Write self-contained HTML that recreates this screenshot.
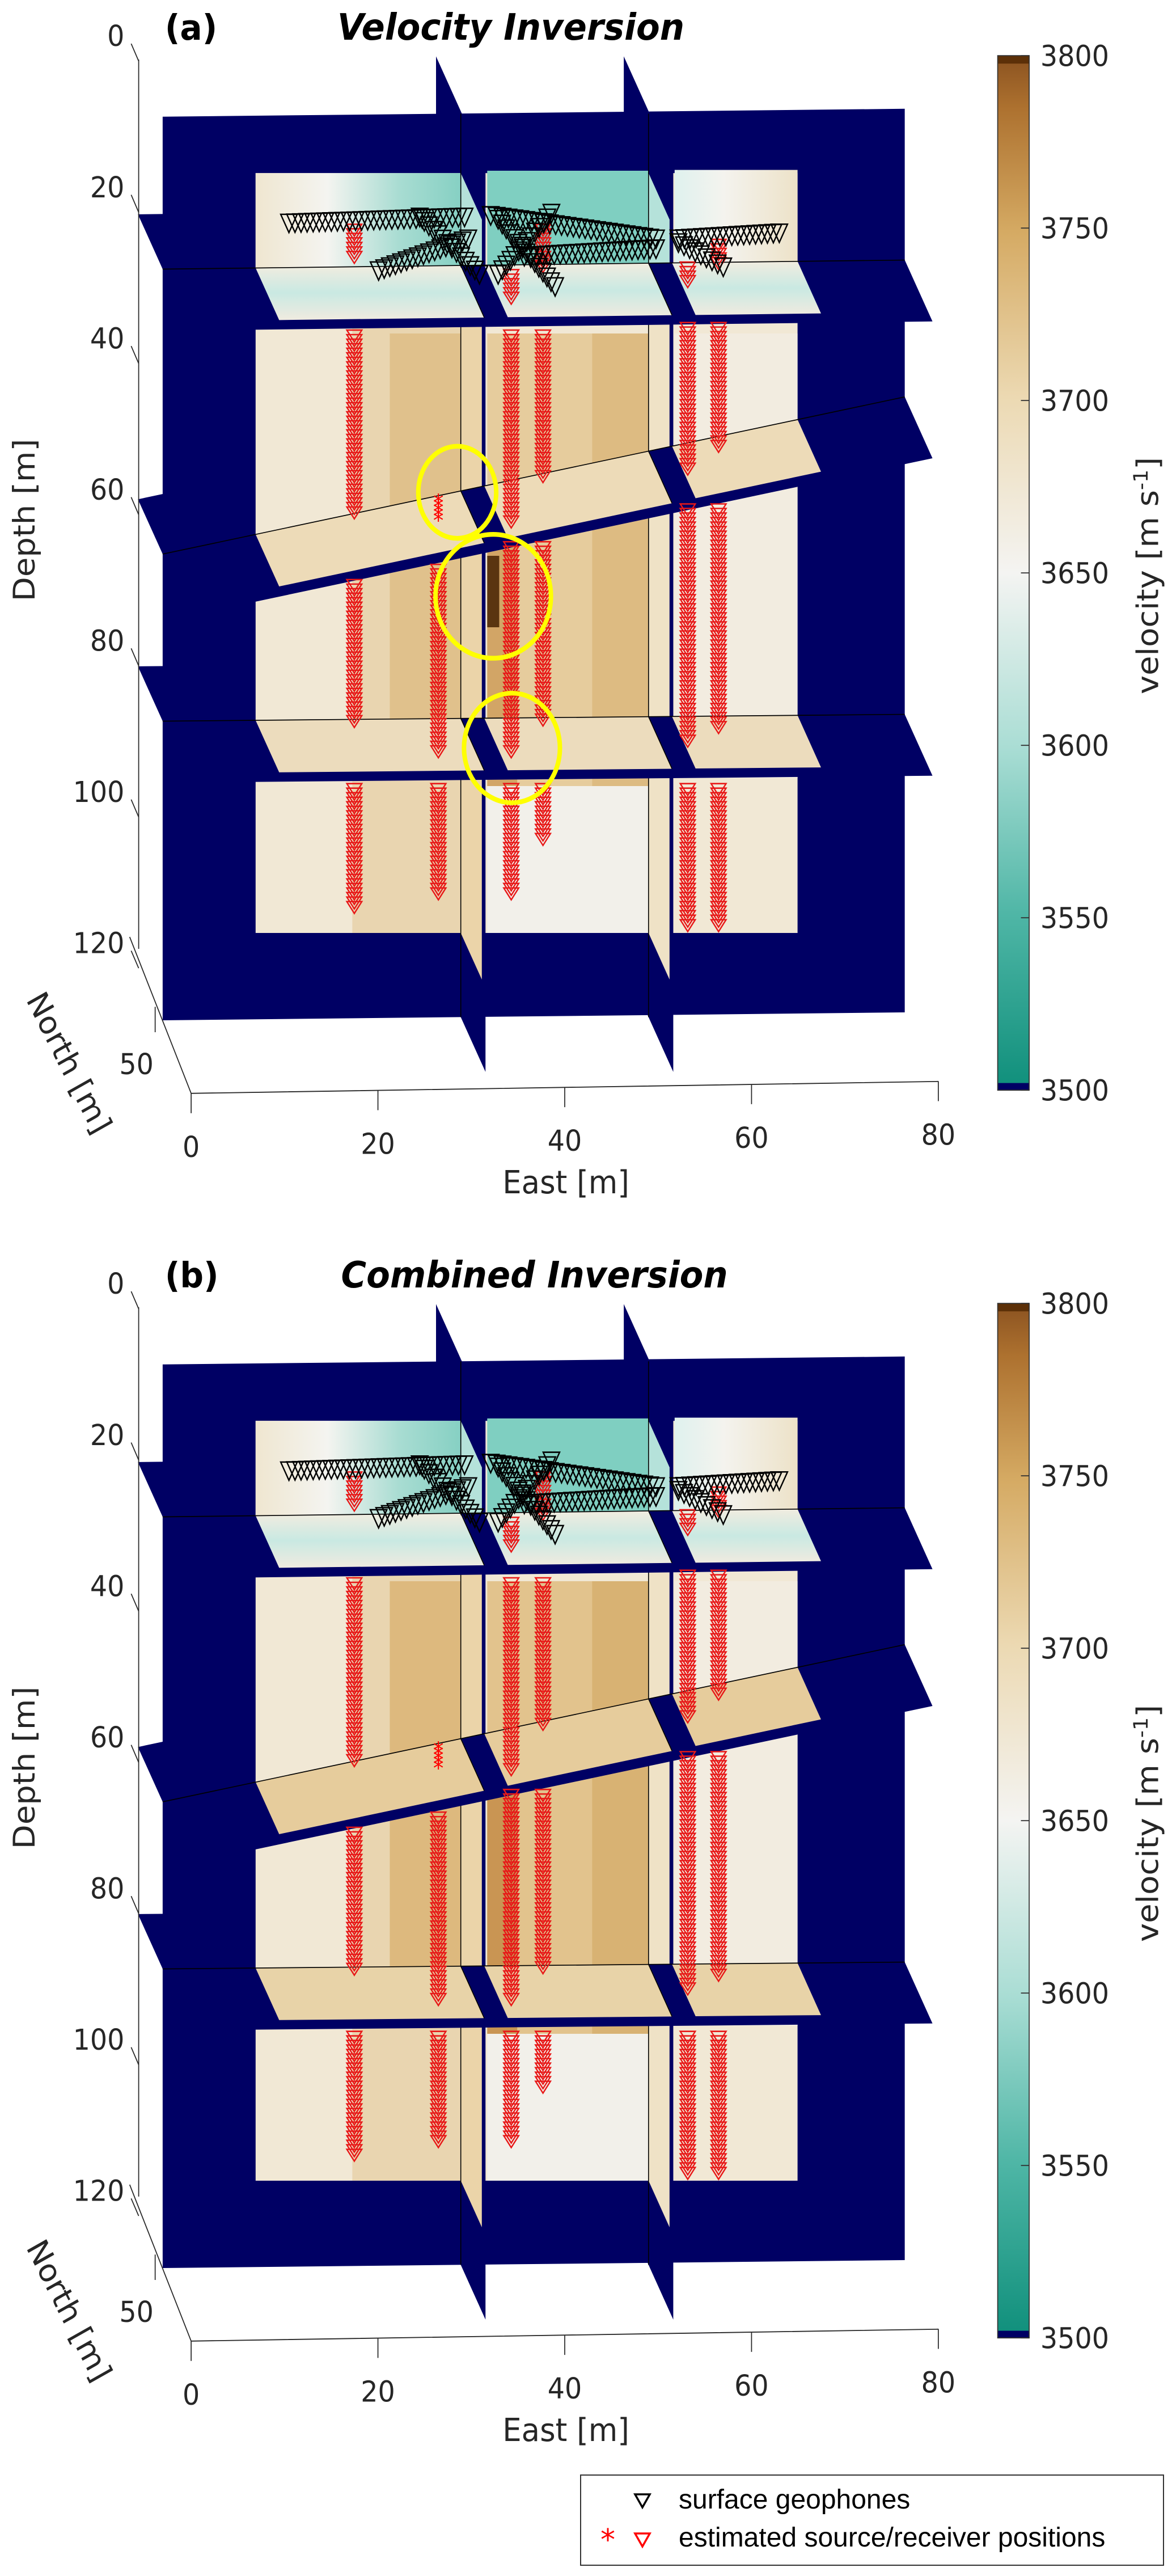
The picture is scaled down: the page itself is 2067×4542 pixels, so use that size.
<!DOCTYPE html>
<html><head><meta charset="utf-8">
<style>
html,body{margin:0;padding:0;background:#fff;}
svg{display:block;}
text{font-family:"DejaVu Sans","Liberation Sans",sans-serif;fill:#262626;}
.lg{font-family:"Liberation Sans",sans-serif;fill:#000;}
</style></head>
<body>
<svg id="fig" width="2067" height="4542" viewBox="0 0 2067 4542" xmlns="http://www.w3.org/2000/svg">
<defs>
<linearGradient id="cbg" x1="0" y1="1" x2="0" y2="0">
<stop offset="0" stop-color="#0f8f7b"/><stop offset="0.17" stop-color="#4fb6a6"/>
<stop offset="0.33" stop-color="#a9ddd4"/><stop offset="0.5" stop-color="#f4f4f2"/>
<stop offset="0.67" stop-color="#ecd9b2"/><stop offset="0.83" stop-color="#d5aa63"/>
<stop offset="0.95" stop-color="#ad712f"/><stop offset="1" stop-color="#8a5220"/>
</linearGradient>
<linearGradient id="topL" x1="0" y1="0" x2="1" y2="0">
<stop offset="0" stop-color="#efe6d0"/><stop offset="0.35" stop-color="#f4f4f0"/>
<stop offset="0.7" stop-color="#a8dcd2"/><stop offset="1" stop-color="#86d0c3"/>
</linearGradient>
<linearGradient id="topR" x1="0" y1="0" x2="1" y2="0">
<stop offset="0" stop-color="#dff2ee"/><stop offset="0.4" stop-color="#f4f3ee"/><stop offset="1" stop-color="#ede2c8"/>
</linearGradient>
<linearGradient id="s1face" x1="0" y1="0" x2="0" y2="1">
<stop offset="0" stop-color="#f1ece0"/><stop offset="0.5" stop-color="#c9e9e2"/><stop offset="1" stop-color="#f0ebe0"/>
</linearGradient>
</defs>
<g id="panelA"></g>
<g id="panelB"></g>
<g id="legend">
<rect x="1024" y="4364" width="1028" height="159" fill="#fff" stroke="#333" stroke-width="2"/>
<path d="M1120,4398 L1146,4398 L1133,4421 Z" fill="none" stroke="#000" stroke-width="3.5"/>
<text class="lg" x="1197" y="4423" font-size="48">surface geophones</text>
<text x="1072" y="4496" font-size="52" fill="#f00" style="fill:#f00" text-anchor="middle" font-family="Liberation Sans">*</text>
<path d="M1120,4467 L1146,4467 L1133,4490 Z" fill="none" stroke="#f00" stroke-width="3.5"/>
<text class="lg" x="1197" y="4490" font-size="48">estimated source/receiver positions</text>
</g>
</svg>
<script>
// ---- data ----
const depthTicks = [0, 20, 40, 60, 80, 100, 120];
const eastTicks = [0, 20, 40, 60, 80];
const cbTicks = [3500, 3550, 3600, 3650, 3700, 3750, 3800];
const sliceDepthLeft = [27.2, 64.9, 87];
const sliceDepthRight = [26, 44.1, 86.1];
const verticalSliceEast = [31.6, 51.7];
const recEast = [20.2, 29.2, 37.0, 40.4, 55.9, 59.2];
const recTop = [[22, 36, 69, 96], [58, 67, 96], [28, 36, 64, 96], [22, 36, 64, 96], [27, 35, 59, 96], [24, 35, 59, 96]];
const recBot = [[26, 60, 87, 112], [61, 91, 110], [31.5, 61, 91, 110], [27, 55, 87, 103], [29, 54, 90, 114], [27, 51, 88, 114]];
const geoE1 = [13.2, 22.8, 27.2, 34.8, 35.6, 38.4, 35.6, 54.9, 54.9];
const geoZ1 = [21, 27.3, 20.2, 20, 27.8, 25.4, 20.5, 23.1, 23.6];
const geoE2 = [32, 32.4, 33.6, 52.5, 41.3, 52.5, 41.7, 65.7, 59.7];
const geoZ2 = [20.2, 23.1, 27.8, 23.1, 19.7, 24.4, 29.4, 22.3, 26.8];
const titles = ["(a)", "(b)"];
const names = ["Velocity Inversion", "Combined Inversion"];

// ---- axis functions (panel units) ----
const NS = "http://www.w3.org/2000/svg";
const NX = 33, NY = 69; // half north vector
function xE(E){ return 221 + E * 12.46; }
function yZ(z){ return 80 + z * 9.52; }
function yTick(d){ return 45 + d * 9.52; }
function xTick(E){ return 255 + E * 12.46; }
function yTickE(E){ return 1377 - E * 0.19; }
function yCb(v){ return 1373 - (v - 3500) * 4.343; }

function mk(parent, tag, attrs, txt){
  const e = document.createElementNS(NS, tag);
  for (const k in attrs) e.setAttribute(k, attrs[k]);
  if (txt !== undefined) e.textContent = txt;
  parent.appendChild(e);
  return e;
}
function pts(a){ return a.map(p => p[0].toFixed(1) + "," + p[1].toFixed(1)).join(" "); }
const NAVY = "#000064";

function drawPanel(root, idx){
  const g = mk(root, "g", {transform: "translate(0," + (idx * 2200) + ") scale(1.322,1.40)"});
  const sl = sliceDepthLeft.map((d, i) => [yZ(d), yZ(sliceDepthRight[i])]);
  function yAt(i, x){ return sl[i][0] + (sl[i][1] - sl[i][0]) * (x - 217) / 990; }
  function hp(i, x, t){ return [x + NX * t, yAt(i, x) + NY * t]; }
  const vx = verticalSliceEast.map(xE);
  sl.forEach((s, i) => {
    const p = mk(g, "polygon", {points: pts([hp(i, 217, -1), hp(i, 1207, -1), hp(i, 1207, 0), hp(i, 217, 0)]), fill: NAVY});
    
    
  });
  vx.forEach((x, i) => {
    const p = mk(g, "polygon", {points: pts([[x - NX, 143 - 3 - NY], [x, 143 - 3], [x, 1281], [x - NX, 1281 - NY]]), fill: NAVY});
    
    
  });
  const xz = mk(g, "polygon", {points: pts([[217, 147], [1207, 137], [1207, 1275], [217, 1285]]), fill: NAVY});
  
  
  const d = mk(g, "g", {});
  
  
  mk(d, "rect", {x: 341, y: 218, width: 723, height: 957, fill: "#f1e8d5"});
  mk(d, "rect", {x: 470, y: 335, width: 145, height: 840, fill: "#e9d5b0"});
  mk(d, "rect", {x: 520, y: 420, width: 95, height: 560, fill: idx ? "#ddb97e" : "#e0c18c"});
  mk(d, "rect", {x: 650, y: 420, width: 215, height: 570, fill: idx ? "#e2c38d" : "#e6cc9d"});
  mk(d, "rect", {x: 790, y: 420, width: 75, height: 570, fill: idx ? "#d8b273" : "#ddbb82"});
  mk(d, "rect", {x: 650, y: 680, width: 40, height: 310, fill: idx ? "#c99553" : "#d2a566"});
  mk(d, "rect", {x: 650, y: 990, width: 215, height: 185, fill: "#f2f0ea"});
  mk(d, "rect", {x: 341, y: 218, width: 274, height: 120, fill: "url(#topL)"});
  mk(d, "rect", {x: 650, y: 215, width: 215, height: 120, fill: "#7fcfc1"});
  mk(d, "rect", {x: 900, y: 214, width: 164, height: 120, fill: "url(#topR)"});
  mk(d, "rect", {x: 900, y: 420, width: 164, height: 560, fill: "#f2ece0"});
  if (idx === 0) mk(d, "rect", {x: 650, y: 700, width: 16, height: 90, fill: "#5a3510"});
  vx.forEach((x, i) => {
    const p = mk(g, "polygon", {points: pts([[x, 140], [x + NX, 140 + NY], [x + NX, 1281 + NY], [x, 1281]]), fill: NAVY});
    
    
    const f = mk(g, "polygon", {points: pts([[x, 218], [x + NX * 0.85, 218 + NY * 0.85], [x + NX * 0.85, 1175 + NY * 0.85], [x, 1175]]), fill: i ? "#efe2c6" : "#ebd4a9"});
    
    
    mk(g, "polygon", {points: pts([[x, 218], [x + NX * 0.85, 218 + NY * 0.85], [x + NX * 0.85, 335 + NY * 0.85], [x, 335]]), fill: "#b5e2da"});
    mk(g, "line", {x1: x, y1: 143, x2: x, y2: 1281, stroke: "#000", "stroke-width": 1.2});
  });
  const faceFill = ["url(#s1face)", idx ? "#e6cc9c" : "#eddbb8", idx ? "#e8d3a8" : "#ecdcbd"];
  sl.forEach((s, i) => {
    const p = mk(g, "polygon", {points: pts([hp(i, 217, 0), hp(i, 1207, 0), hp(i, 1207, 1.12), hp(i, 217, 1.12)]), fill: NAVY});
    
    
    const segs = [[341, vx[0]], [vx[0] + NX * 0.95, vx[1]], [vx[1] + NX * 0.95, 1064]];
    segs.forEach(([a, b], j) => {
      const f = mk(g, "polygon", {points: pts([hp(i, a, 0), hp(i, b, 0), hp(i, b, 0.95), hp(i, a, 0.95)]), fill: faceFill[i]});
      
      
    });
    mk(g, "line", {x1: 217, y1: yAt(i, 217), x2: 1207, y2: yAt(i, 1207), stroke: "#000", "stroke-width": 1.2});
    vx.forEach(x => mk(g, "line", {x1: x, y1: yAt(i, x), x2: x + NX * 0.95, y2: yAt(i, x) + NY * 0.95, stroke: "#000", "stroke-width": 1.2}));
  });
  recEast.forEach((E, c) => {
    const x = xE(E);
    recTop[c].forEach((z0, k) => {
      const z1 = recBot[c][k];
      const col = mk(g, "g", {});
      
      
      for (let z = z0; z <= z1; z += 0.6) {
        const y = yZ(z);
        if (c === 1 && k === 0) {
          const s = mk(col, "text", {x: x, y: y + 10, "font-size": 28, "text-anchor": "middle", style: "fill:#f00", "font-family": "Liberation Sans"}, "*");
          
          
        } else {
          const t = mk(col, "path", {d: "M" + (x - 10) + "," + (y - 7) + " L" + (x + 10) + "," + (y - 7) + " L" + x + "," + (y + 8) + " Z", fill: "none", stroke: "#e81818", "stroke-width": 1.8});
          
          
        }
      }
    });
  });
  geoE1.forEach((e1, k) => {
    const x1 = xE(e1), y1 = yZ(geoZ1[k]), x2 = xE(geoE2[k]), y2 = yZ(geoZ2[k]);
    const L = Math.hypot(x2 - x1, y2 - y1), n = Math.max(2, Math.round(L / 8));
    const gl = mk(g, "g", {});
    
    
    for (let j = 0; j <= n; j++) {
      const x = x1 + (x2 - x1) * j / n, y = y1 + (y2 - y1) * j / n;
      const t = mk(gl, "path", {d: "M" + (x - 11) + "," + (y - 10) + " L" + (x + 11) + "," + (y - 10) + " L" + x + "," + (y + 13) + " Z", fill: "none", stroke: "#000", "stroke-width": 1.8});
      
      
    }
  });
  if (idx === 0) {
    [[610, 620, 52, 58], [658, 751, 77, 78], [683, 942, 64, 69]].forEach((c, k) => {
      const e = mk(g, "ellipse", {cx: c[0], cy: c[1], rx: c[2], ry: c[3], fill: "none", stroke: "#ffff00", "stroke-width": 6});
      
      
    });
  }
  const ax = mk(g, "g", {stroke: "#262626", "stroke-width": 1.3, fill: "none"});
  
  
  mk(ax, "polyline", {points: "185,75 185,1195"});
  mk(ax, "polyline", {points: "173,1180 255,1377 1252,1362"});
  mk(ax, "line", {x1: 207, y1: 1268, x2: 207, y2: 1300});
  depthTicks.forEach(dv => {
    const y = yTick(dv);
    mk(ax, "line", {x1: 175, y1: y + 10, x2: 185, y2: y + 32});
    const t = mk(g, "text", {x: 166, y: y + 13, "font-size": 36, "text-anchor": "end"}, String(dv));
    
    
  });
  eastTicks.forEach(E => {
    const x = xTick(E), y = yTickE(E);
    mk(ax, "line", {x1: x, y1: y, x2: x, y2: y + 25});
    const t = mk(g, "text", {x: x, y: y + 80, "font-size": 36, "text-anchor": "middle"}, String(E));
    
    
  });
  const n50 = mk(g, "text", {x: 182, y: 1353, "font-size": 36, "text-anchor": "middle"}, "50");
  
  
  const et = mk(g, "text", {x: 755, y: 1503, "font-size": 40, "text-anchor": "middle"}, "East [m]");
  
  
  const dt = mk(g, "text", {x: 0, y: 0, "font-size": 40, "text-anchor": "middle", transform: "translate(46,655) rotate(-90)"}, "Depth [m]");
  
  
  const nt = mk(g, "text", {x: 0, y: 0, "font-size": 40, "text-anchor": "middle", transform: "translate(80,1345) rotate(62)"}, "North [m]");
  
  
  const t1 = mk(g, "text", {x: 220, y: 50, "font-size": 44, "font-weight": "bold", style: "fill:#000"}, titles[idx]);
  
  
  const t2 = mk(g, "text", {x: idx ? 455 : 450, y: 50, "font-size": 46, "font-weight": "bold", "font-style": "italic", style: "fill:#000"}, names[idx]);
  
  
  const cb = mk(g, "g", {});
  
  
  mk(cb, "rect", {x: 1331, y: yCb(3800), width: 42, height: yCb(3500) - yCb(3800), fill: "url(#cbg)"});
  mk(cb, "rect", {x: 1331, y: yCb(3800), width: 42, height: 10, fill: "#5c3008"});
  mk(cb, "rect", {x: 1331, y: yCb(3500) - 9, width: 42, height: 9, fill: NAVY});
  mk(cb, "rect", {x: 1331, y: yCb(3800), width: 42, height: yCb(3500) - yCb(3800), fill: "none", stroke: "#333", "stroke-width": 1.3});
  cbTicks.forEach(v => {
    const y = yCb(v);
    mk(cb, "line", {x1: 1362, y1: y, x2: 1373, y2: y, stroke: "#333", "stroke-width": 1.3});
    const t = mk(g, "text", {x: 1388, y: y + 13, "font-size": 36}, String(v));
    
    
  });
  const ct = mk(g, "text", {x: 0, y: 0, "font-size": 40, "text-anchor": "middle", transform: "translate(1545,725) rotate(-90)"});
  
  
  mk(ct, "tspan", {}, "velocity [m s");
  mk(ct, "tspan", {dy: -14, "font-size": 26}, "-1");
  mk(ct, "tspan", {dy: 14}, "]");
}
drawPanel(document.getElementById("panelA"), 0);
drawPanel(document.getElementById("panelB"), 1);
</script>
</body></html>
